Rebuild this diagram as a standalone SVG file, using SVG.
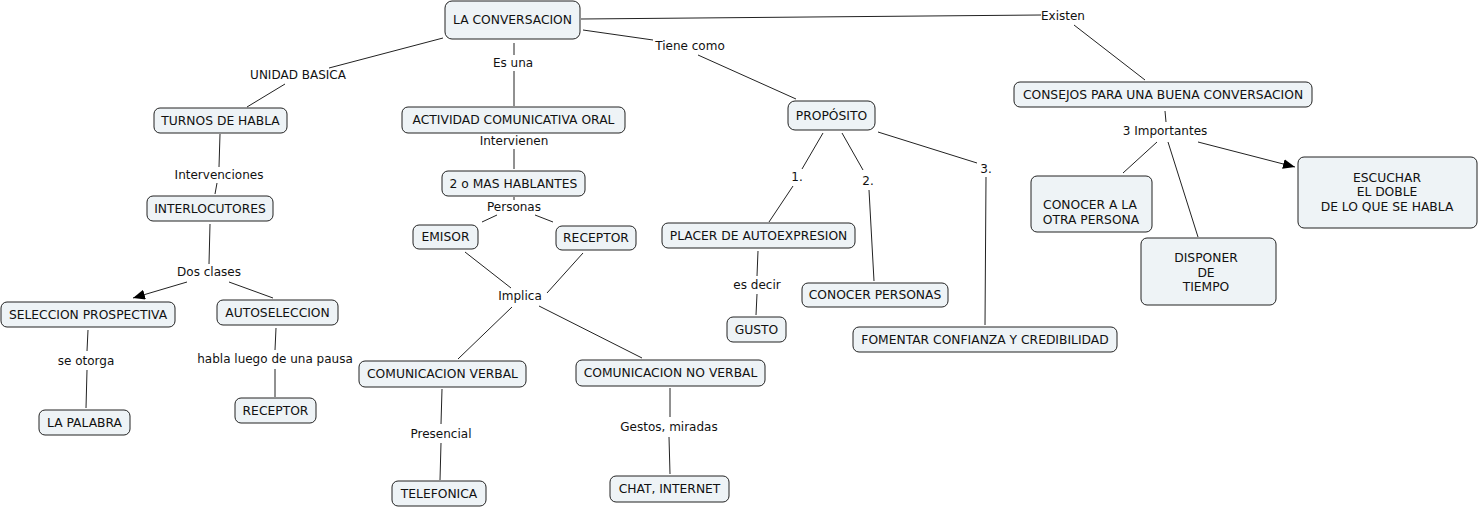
<svg xmlns="http://www.w3.org/2000/svg" width="1480" height="509" viewBox="0 0 1480 509">
<style>
.n rect{fill:#eef3f6;stroke:#222;stroke-width:1}
.n text{font-family:"DejaVu Sans",Verdana,sans-serif;font-size:12.3px;fill:#111;text-anchor:middle}
.l{font-family:"DejaVu Sans",Verdana,sans-serif;font-size:12px;fill:#111;text-anchor:middle}
#c line{stroke:#222;stroke-width:1}
</style>
<defs>
<marker id="ah" markerWidth="12" markerHeight="10" refX="12" refY="5" orient="auto" markerUnits="userSpaceOnUse">
<path d="M0,0 L12,5 L0,10 Z" fill="#000"/>
</marker>
</defs>
<rect width="1480" height="509" fill="#fff"/>
<g id="c">
<line x1="443" y1="38" x2="329" y2="68"/>
<line x1="285" y1="84" x2="247" y2="107"/>
<line x1="514" y1="43" x2="514" y2="55"/>
<line x1="514" y1="71" x2="514" y2="106"/>
<line x1="583" y1="30" x2="653" y2="40"/>
<line x1="698" y1="55" x2="796" y2="99"/>
<line x1="581" y1="19" x2="1041" y2="15"/>
<line x1="1074" y1="25" x2="1145" y2="80"/>
<line x1="220" y1="134" x2="219" y2="167"/>
<line x1="217" y1="183" x2="215" y2="194"/>
<line x1="210" y1="224" x2="209" y2="264"/>
<line x1="187" y1="282" x2="133" y2="298" marker-end="url(#ah)"/>
<line x1="229" y1="282" x2="273" y2="298"/>
<line x1="88" y1="330" x2="87" y2="351"/>
<line x1="87" y1="370" x2="86" y2="408"/>
<line x1="276" y1="328" x2="275" y2="350"/>
<line x1="275" y1="369" x2="275" y2="397"/>
<line x1="514" y1="149" x2="514" y2="169"/>
<line x1="514" y1="197" x2="514" y2="200"/>
<line x1="497" y1="215" x2="482" y2="222"/>
<line x1="535" y1="215" x2="553" y2="222"/>
<line x1="465" y1="252" x2="511" y2="288"/>
<line x1="583" y1="253" x2="547" y2="293"/>
<line x1="512" y1="307" x2="458" y2="359"/>
<line x1="539" y1="306" x2="642" y2="358"/>
<line x1="442" y1="389" x2="441" y2="424"/>
<line x1="441" y1="443" x2="440" y2="480"/>
<line x1="670" y1="388" x2="670" y2="417"/>
<line x1="669" y1="437" x2="670" y2="474"/>
<line x1="823" y1="133" x2="802" y2="169"/>
<line x1="793" y1="186" x2="769" y2="222"/>
<line x1="842" y1="133" x2="863" y2="170"/>
<line x1="869" y1="190" x2="874" y2="281"/>
<line x1="878" y1="132" x2="977" y2="163"/>
<line x1="986" y1="177" x2="985" y2="325"/>
<line x1="758" y1="251" x2="757" y2="276"/>
<line x1="757" y1="294" x2="756" y2="315"/>
<line x1="1165" y1="111" x2="1166" y2="122"/>
<line x1="1157" y1="142" x2="1123" y2="173"/>
<line x1="1168" y1="142" x2="1198" y2="237"/>
<line x1="1198" y1="142" x2="1295" y2="167" marker-end="url(#ah)"/>
</g>
<g id="labels">
<text class="l" x="298" y="79">UNIDAD BASICA</text>
<text class="l" x="513" y="67">Es una</text>
<text class="l" x="690" y="50">Tiene como</text>
<text class="l" x="1063" y="20">Existen</text>
<text class="l" x="219" y="179">Intervenciones</text>
<text class="l" x="209" y="276">Dos clases</text>
<text class="l" x="86" y="365">se otorga</text>
<text class="l" x="275" y="363">habla luego de una pausa</text>
<text class="l" x="514" y="145">Intervienen</text>
<text class="l" x="514" y="211">Personas</text>
<text class="l" x="520" y="300">Implica</text>
<text class="l" x="441" y="438">Presencial</text>
<text class="l" x="669" y="431">Gestos, miradas</text>
<text class="l" x="797" y="181">1.</text>
<text class="l" x="868" y="185">2.</text>
<text class="l" x="986" y="173">3.</text>
<text class="l" x="757" y="289">es decir</text>
<text class="l" x="1165" y="135">3 Importantes</text>
</g>
<g id="n1" class="n"><rect x="445" y="1" width="135" height="38" rx="7"/><text x="512.5" y="24">LA CONVERSACION</text></g>
<g id="n2" class="n"><rect x="154" y="108" width="133" height="25" rx="6"/><text x="220.5" y="124.5">TURNOS DE HABLA</text></g>
<g id="n3" class="n"><rect x="402" y="107" width="223" height="26" rx="6"/><text x="513.5" y="124">ACTIVIDAD COMUNICATIVA ORAL</text></g>
<g id="n4" class="n"><rect x="147" y="196" width="126" height="25" rx="6"/><text x="210" y="212.5">INTERLOCUTORES</text></g>
<g id="n5" class="n"><rect x="1" y="302" width="174" height="25" rx="6"/><text x="88" y="318.5">SELECCION PROSPECTIVA</text></g>
<g id="n6" class="n"><rect x="217" y="300" width="121" height="25" rx="6"/><text x="277.5" y="316.5">AUTOSELECCION</text></g>
<g id="n7" class="n"><rect x="39" y="410" width="91" height="25" rx="6"/><text x="84.5" y="426.5">LA PALABRA</text></g>
<g id="n8" class="n"><rect x="235" y="398" width="81" height="25" rx="6"/><text x="275.5" y="414.5">RECEPTOR</text></g>
<g id="n9" class="n"><rect x="359" y="361" width="167" height="26" rx="6"/><text x="442.5" y="378">COMUNICACION VERBAL</text></g>
<g id="n10" class="n"><rect x="392" y="481" width="94" height="25" rx="6"/><text x="439" y="497.5">TELEFONICA</text></g>
<g id="n11" class="n"><rect x="576" y="360" width="189" height="26" rx="6"/><text x="670.5" y="377">COMUNICACION NO VERBAL</text></g>
<g id="n12" class="n"><rect x="610" y="476" width="119" height="26" rx="6"/><text x="669.5" y="493">CHAT, INTERNET</text></g>
<g id="n13" class="n"><rect x="442" y="171" width="143" height="25" rx="6"/><text x="513.5" y="187.5">2 o MAS HABLANTES</text></g>
<g id="n14" class="n"><rect x="413" y="225" width="65" height="24" rx="6"/><text x="445.5" y="241">EMISOR</text></g>
<g id="n15" class="n"><rect x="556" y="226" width="80" height="24" rx="6"/><text x="596" y="242">RECEPTOR</text></g>
<g id="n16" class="n"><rect x="788" y="101" width="87" height="29" rx="7"/><text x="831.5" y="119.5">PROPÓSITO</text></g>
<g id="n17" class="n"><rect x="1014" y="82" width="298" height="25" rx="6"/><text x="1163" y="98.5">CONSEJOS PARA UNA BUENA CONVERSACION</text></g>
<g id="n18" class="n"><rect x="662" y="223" width="193" height="25" rx="6"/><text x="758.5" y="239.5">PLACER DE AUTOEXPRESION</text></g>
<g id="n19" class="n"><rect x="727" y="317" width="59" height="25" rx="6"/><text x="756.5" y="333.5">GUSTO</text></g>
<g id="n20" class="n"><rect x="802" y="283" width="146" height="24" rx="6"/><text x="875" y="299">CONOCER PERSONAS</text></g>
<g id="n21" class="n"><rect x="853" y="327" width="264" height="25" rx="6"/><text x="985" y="343.5">FOMENTAR CONFIANZA Y CREDIBILIDAD</text></g>
<g id="n22" class="n"><rect x="1031" y="176" width="121" height="56" rx="6"/><text x="1090" y="209">CONOCER A LA</text><text x="1091" y="224">OTRA PERSONA</text></g>
<g id="n23" class="n"><rect x="1141" y="238" width="135" height="67" rx="6"/><text x="1206" y="262">DISPONER</text><text x="1206" y="277">DE</text><text x="1206" y="291">TIEMPO</text></g>
<g id="n24" class="n"><rect x="1298" y="157" width="179" height="71" rx="6"/><text x="1387" y="182">ESCUCHAR</text><text x="1387" y="196">EL DOBLE</text><text x="1387" y="211">DE LO QUE SE HABLA</text></g>
</svg>
